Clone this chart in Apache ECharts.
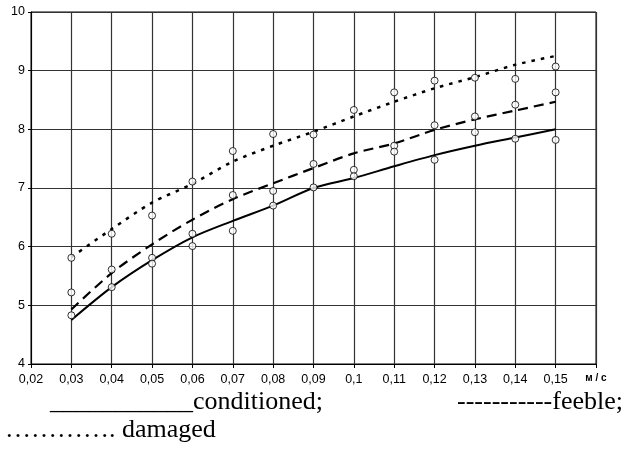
<!DOCTYPE html>
<html>
<head>
<meta charset="utf-8">
<script src="https://cdn.jsdelivr.net/npm/echarts@6/dist/echarts.min.js"></script>
<style>
  html, body { margin: 0; padding: 0; background: #fff; }
  #chart { width: 626px; height: 451px; }
</style>
</head>
<body>
<div id="chart"></div>
<script>
// speed, m/s
const speeds = [0.03, 0.04, 0.05, 0.06, 0.07, 0.08, 0.09, 0.1, 0.11, 0.12, 0.13, 0.14, 0.15];

// fitted curves
const conditionedLine = [4.75, 5.31, 5.77, 6.16, 6.44, 6.70, 7.00, 7.17, 7.37, 7.56, 7.72, 7.86, 8.00];
const feebleLine = [4.93, 5.55, 6.04, 6.46, 6.81, 7.08, 7.34, 7.59, 7.76, 7.99, 8.17, 8.32, 8.47];
const damagedLine = [5.82, 6.30, 6.75, 7.07, 7.45, 7.72, 7.96, 8.22, 8.47, 8.70, 8.89, 9.10, 9.25];

// measured points (open circles)
const damagedPts = [5.81, 6.22, 6.53, 7.11, 7.63, 7.92, 7.91, 8.33, 8.63, 8.83, 8.88, 8.86, 9.07];
const feeblePts = [5.22, 5.61, 5.81, 6.22, 6.88, 6.95, 7.41, 7.31, 7.72, 8.07, 8.22, 8.42, 8.63];
const conditionedPts = [4.83, 5.31, 5.71, 6.01, 6.27, 6.70, 7.01, 7.20, 7.62, 7.48, 7.95, 7.84, 7.82];

const yTicks = [4, 5, 6, 7, 8, 9, 10];

const pairs = (ys) => speeds.map((x, i) => [x, ys[i]]);

const lineSeries = (name, ys, type, width) => ({
  name: name,
  type: "line",
  data: pairs(ys),
  smooth: 0.3,
  showSymbol: false,
  lineStyle: { color: "#000", width: width, type: type },
  z: 3,
});

const ptSeries = (name, ys) => ({
  name: name,
  type: "scatter",
  data: pairs(ys),
  symbol: "circle",
  symbolSize: 7,
  itemStyle: { color: "#fff", borderColor: "#000", borderWidth: 1 },
  z: 5,
});

const chart = echarts.init(document.getElementById("chart"));
const serif = "'Liberation Serif', 'Times New Roman', serif";
const sans = "'Liberation Sans', Arial, sans-serif";

chart.setOption({
  animation: false,
  backgroundColor: "#fff",
  grid: {
    left: 31, right: 30, top: 12, bottom: 87,
    show: true, borderColor: "#000", borderWidth: 1,
  },
  xAxis: {
    type: "value",
    min: 0.02,
    max: 0.16,
    interval: 0.01,
    axisLine: { show: true, lineStyle: { color: "#000", width: 1 } },
    axisTick: { show: true, length: 4, lineStyle: { color: "#000" } },
    splitLine: { show: true, lineStyle: { color: "#333", width: 1.2 } },
    axisLabel: {
      color: "#000",
      fontFamily: sans,
      fontSize: 12.5,
      margin: 9,
      formatter: (v) => {
        const r = Math.round(v * 100) / 100;
        if (r === 0.16) return "{u|м / с}";
        return String(r).replace(".", ",");
      },
      rich: { u: { fontSize: 10, fontWeight: "bold", color: "#000" } },
    },
  },
  yAxis: {
    type: "value",
    min: yTicks[0],
    max: yTicks[yTicks.length - 1],
    interval: 1,
    axisLine: { show: true, lineStyle: { color: "#000", width: 1 } },
    axisTick: { show: true, length: 3, lineStyle: { color: "#000" } },
    splitLine: { show: true, lineStyle: { color: "#333", width: 1.2 } },
    axisLabel: {
      color: "#000",
      fontFamily: sans,
      fontSize: 12.5,
      margin: 6,
    },
  },
  series: [
    lineSeries("conditioned", conditionedLine, "solid", 2),
    lineSeries("feeble", feebleLine, [10, 6], 2.2),
    lineSeries("damaged", damagedLine, [3.5, 6], 2.5),
    ptSeries("damaged pts", damagedPts),
    ptSeries("feeble pts", feeblePts),
    ptSeries("conditioned pts", conditionedPts),
  ],
  graphic: [
    {
      type: "text", left: 50, top: 389,
      style: { text: "___________conditioned;", font: "26px " + serif, fill: "#000" },
    },
    {
      type: "text", right: 3, top: 389,
      style: { text: "-----------feeble;", font: "26px " + serif, fill: "#000" },
    },
    {
      type: "text", left: 5, top: 417,
      style: { text: "…………. damaged", font: "26px " + serif, fill: "#000" },
    },
  ],
});
</script>
</body>
</html>
